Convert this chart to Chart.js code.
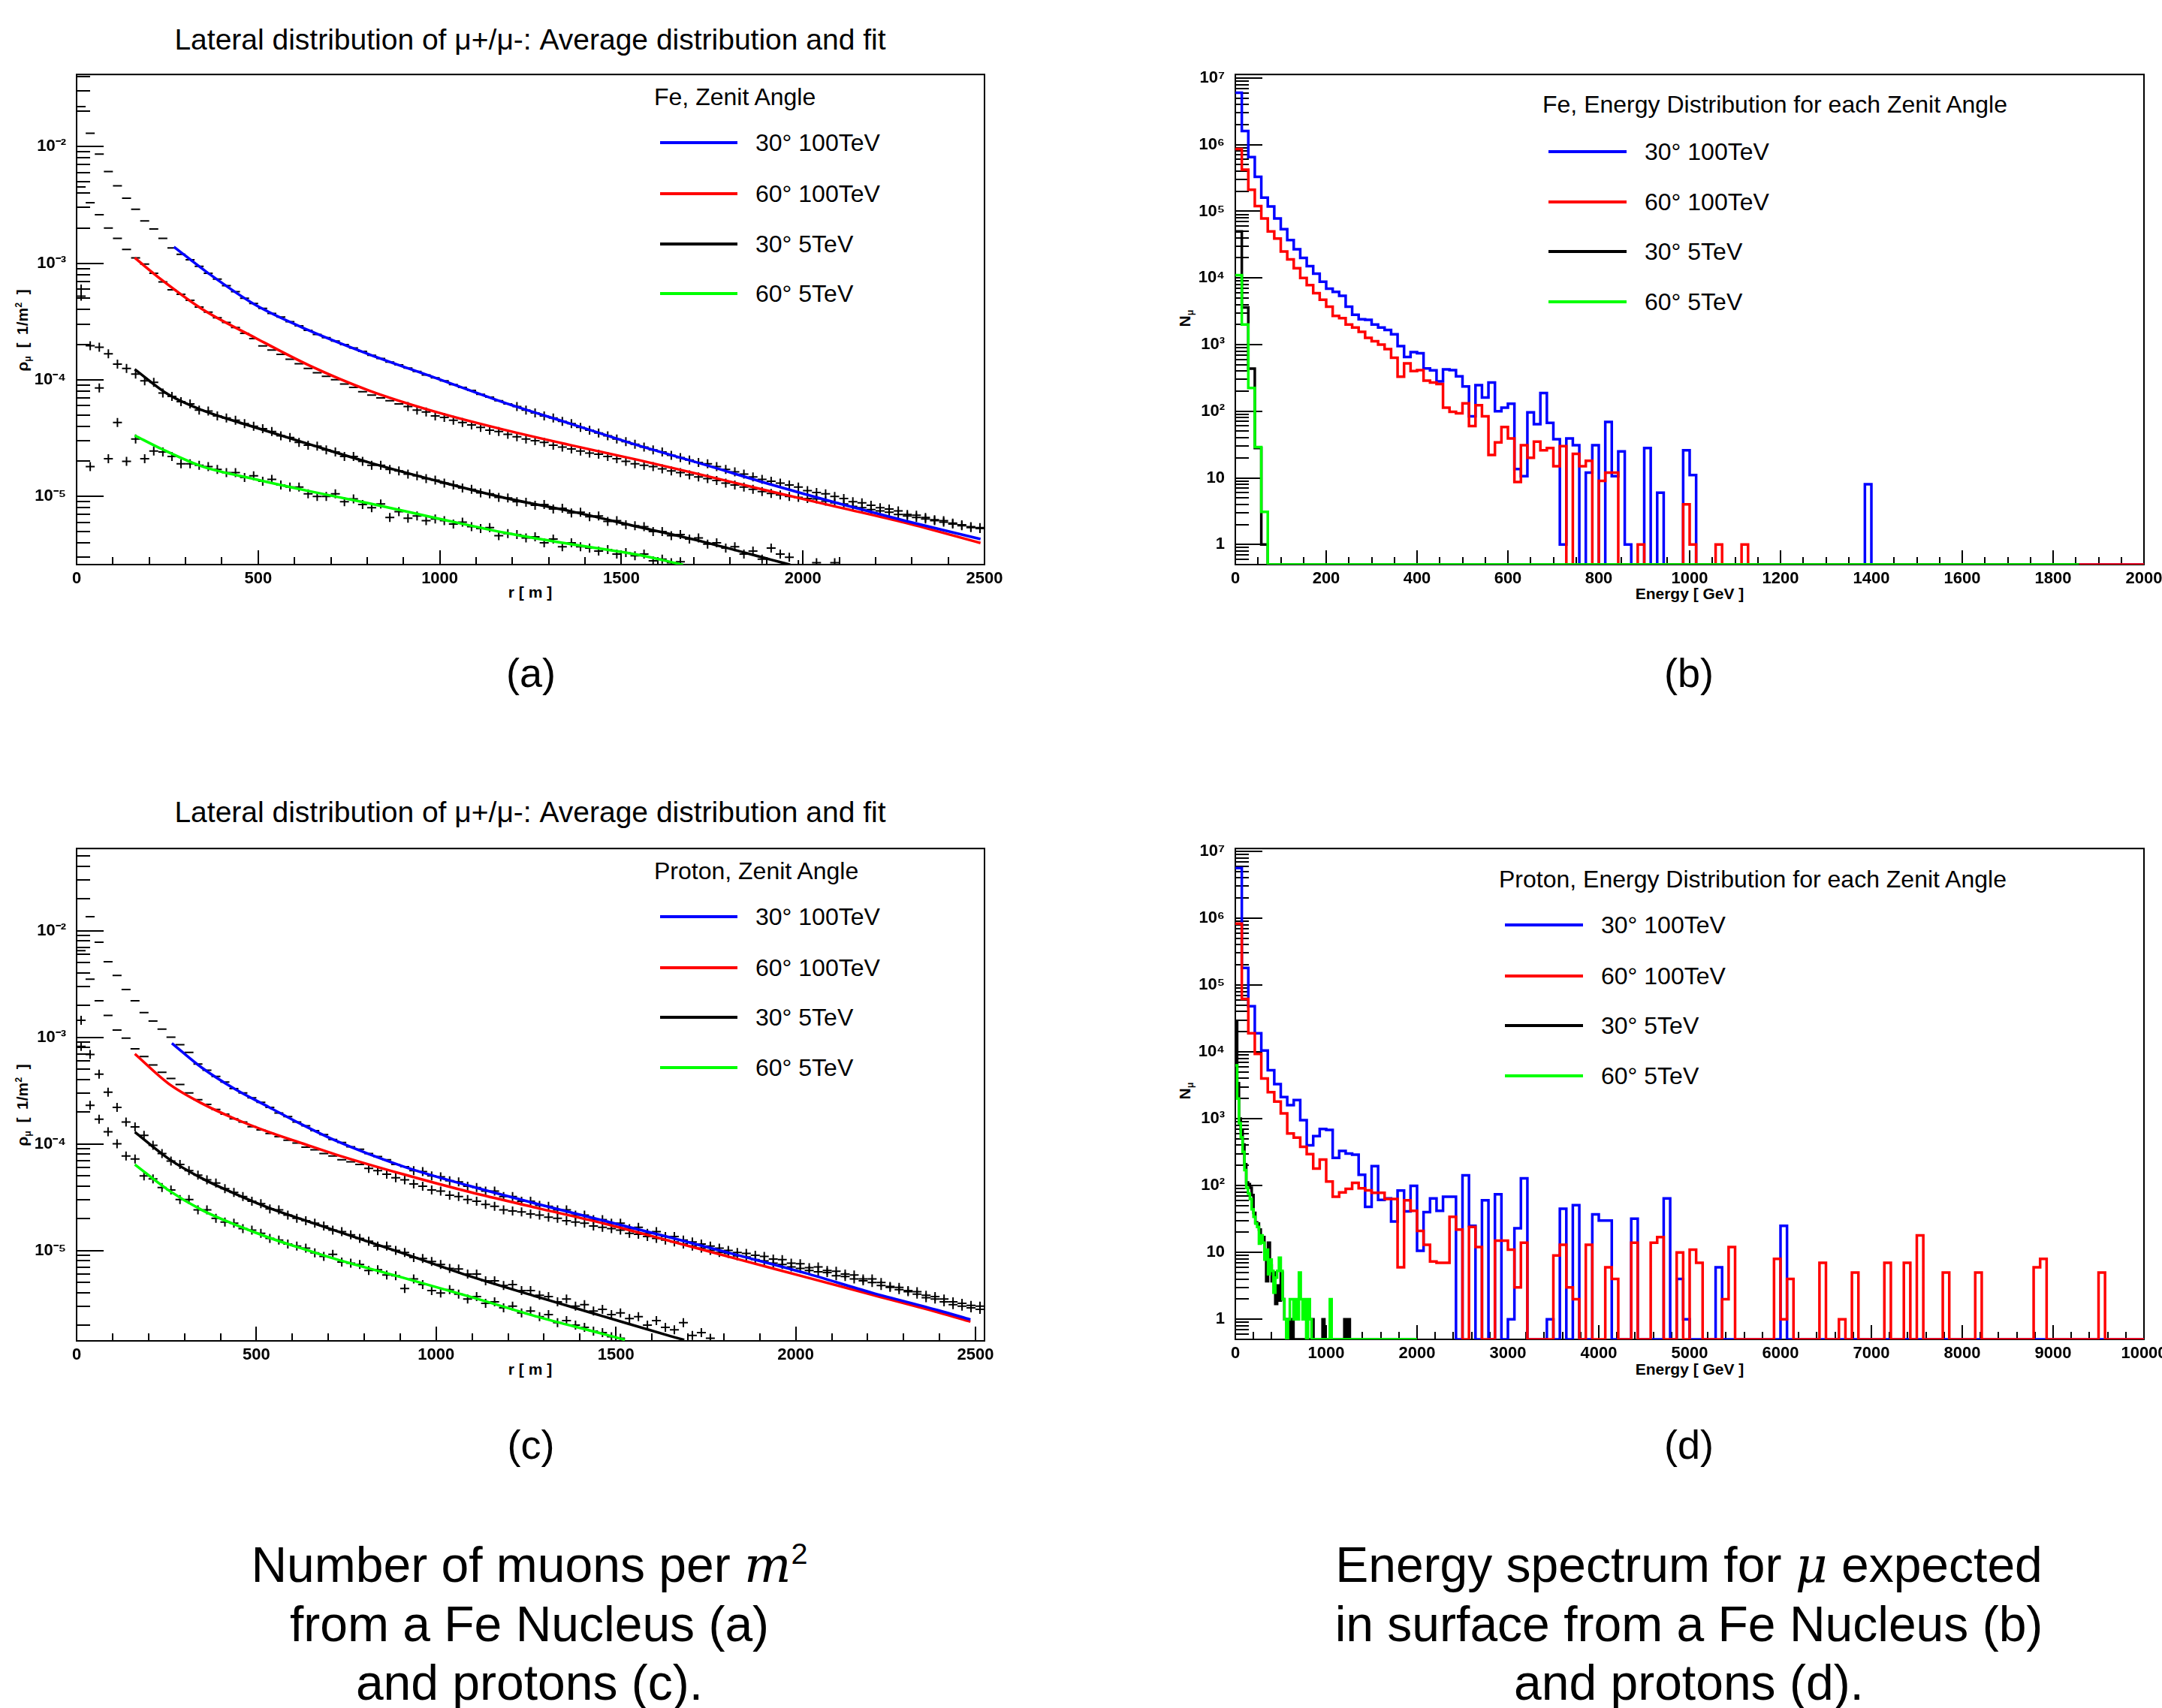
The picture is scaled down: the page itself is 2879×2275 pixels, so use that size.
<!DOCTYPE html>
<html>
<head>
<meta charset="utf-8">
<script src="https://cdn.jsdelivr.net/npm/chart.js@4.4.1/dist/chart.umd.min.js"></script>
<style>
  html, body { margin: 0; padding: 0; background: #fff; }
  body { width: 2879px; height: 2275px; position: relative; overflow: hidden;
         font-family: "Liberation Sans", Arial, sans-serif; color: #000; }
  canvas { position: absolute; }
  .t { position: absolute; white-space: nowrap; transform: translate(-50%, -50%); line-height: 1; }
  .title { font-size: 39px; }
  .axt { font-size: 21px; font-weight: bold; }
  .yt { transform: translate(-50%, -50%) rotate(-90deg); font-size: 21px; }
  .leg { position: absolute; white-space: nowrap; font-size: 32px; line-height: 1; transform: translateY(-50%); }
  .sw { position: absolute; height: 4px; transform: translateY(-50%); }
  .tag { font-size: 54px; }
  .cap { font-size: 66px; text-align: center; line-height: 78px; transform: translate(-50%, 0); }
  .math { font-family: "DejaVu Serif", "Liberation Serif", serif; font-style: italic; }
  sub { font-size: 60%; vertical-align: -0.3em; }
  sup { font-size: 60%; vertical-align: 0.6em; line-height: 0; }
</style>
</head>
<body>

<div class="t title" style="left:706px;top:52px">Lateral distribution of μ+/μ-: Average distribution and fit</div>
<div class="t title" style="left:706px;top:1081px">Lateral distribution of μ+/μ-: Average distribution and fit</div>

<div class="t axt" style="left:706px;top:788px">r [ m ]</div>
<div class="t axt" style="left:706px;top:1823px">r [ m ]</div>
<div class="t axt" style="left:2250px;top:790px">Energy [ GeV ]</div>
<div class="t axt" style="left:2250px;top:1823px">Energy [ GeV ]</div>

<div class="t axt yt" style="left:31px;top:440px">ρ<sub>μ</sub>&ensp;[&ensp;1/m<sup>2</sup>&ensp;]</div>
<div class="t axt yt" style="left:31px;top:1472px">ρ<sub>μ</sub>&ensp;[&ensp;1/m<sup>2</sup>&ensp;]</div>
<div class="t axt yt" style="left:1579px;top:424px">N<sub>μ</sub></div>
<div class="t axt yt" style="left:1579px;top:1453px">N<sub>μ</sub></div>

<div class="t tag" style="left:707px;top:896px">(a)</div>
<div class="t tag" style="left:2249px;top:896px">(b)</div>
<div class="t tag" style="left:707px;top:1924px">(c)</div>
<div class="t tag" style="left:2249px;top:1924px">(d)</div>

<div class="t cap" style="left:705px;top:2045px">Number of muons per <span class="math">m</span><sup>2</sup><br>from a Fe Nucleus (a)<br>and protons (c).</div>
<div class="t cap" style="left:2249px;top:2045px">Energy spectrum for <span class="math">μ</span> expected<br>in surface from a Fe Nucleus (b)<br>and protons (d).</div>

<div id="legends"></div>

<script>
// ---- series names / colours ----
const seriesLabels = ['30° 100TeV', '60° 100TeV', '30° 5TeV', '60° 5TeV'];
const seriesColors = ['#0000ff', '#ff0000', '#000000', '#00ff00'];

// ---- tick labels ----
const latTickValues = [1e-5, 1e-4, 1e-3, 1e-2];
const latTickLabels = ['10⁻⁵', '10⁻⁴', '10⁻³', '10⁻²'];
const nTickValues = [1, 10, 100, 1e3, 1e4, 1e5, 1e6, 1e7];
const nTickLabels = ['1', '10', '10²', '10³', '10⁴', '10⁵', '10⁶', '10⁷'];
const rTickValues = [0, 500, 1000, 1500, 2000, 2500];
const feETickValues = [0, 200, 400, 600, 800, 1000, 1200, 1400, 1600, 1800, 2000];
const pETickValues = [0, 1000, 2000, 3000, 4000, 5000, 6000, 7000, 8000, 9000, 10000];

// ---- bin widths ----
const R_BIN = 25;            // m
const FE_E_BIN = 2000 / 140; // GeV
const P_E_BIN = 10000 / 140; // GeV
const P5_E_BIN = 20;         // GeV

// ---- (a) Fe lateral distribution, averaged points per 25 m bin [1/m^2] ----
const feBlueData = [0.022, 0.013, 0.0086, 0.0061, 0.0046, 0.0036, 0.0029, 0.0023, 0.00196, 0.00163, 0.00135, 0.00119,
  1.07e-3, 9.4e-4, 8.2e-4, 7.3e-4, 6.4e-4, 5.7e-4, 5.0e-4, 4.5e-4,
  4.1e-4, 3.7e-4, 3.45e-4, 3.15e-4, 2.9e-4, 2.65e-4, 2.45e-4, 2.3e-4, 2.15e-4, 2.0e-4,
  1.87e-4, 1.75e-4, 1.62e-4, 1.52e-4, 1.42e-4, 1.34e-4, 1.26e-4, 1.18e-4, 1.1e-4, 1.04e-4,
  9.8e-5, 9.1e-5, 8.6e-5, 8.1e-5, 7.5e-5, 7.1e-5, 6.6e-5, 6.2e-5, 5.9e-5, 5.5e-5,
  5.2e-5, 4.9e-5, 4.7e-5, 4.4e-5, 4.2e-5, 3.9e-5, 3.7e-5, 3.5e-5, 3.3e-5, 3.1e-5,
  2.95e-5, 2.8e-5, 2.65e-5, 2.5e-5, 2.4e-5, 2.25e-5, 2.15e-5, 2.05e-5, 1.95e-5, 1.9e-5,
  1.8e-5, 1.7e-5, 1.62e-5, 1.55e-5, 1.47e-5, 1.4e-5, 1.35e-5, 1.3e-5, 1.25e-5, 1.2e-5,
  1.12e-5, 1.08e-5, 1.05e-5, 1.0e-5, 9.6e-6, 9.0e-6, 8.8e-6, 8.4e-6, 8.0e-6, 7.8e-6,
  7.5e-6, 7.0e-6, 6.9e-6, 6.6e-6, 6.3e-6, 6.2e-6, 5.8e-6, 5.7e-6, 5.5e-6, 5.4e-6];
const feRedData = [4.5e-3, 3.3e-3, 2.6e-3, 2.0e-3, 1.63e-3, 1.31e-3, 1.11e-3, 9.8e-4, 8.2e-4, 6.9e-4, 5.9e-4, 5.4e-4,
  4.8e-4, 4.2e-4, 3.8e-4, 3.4e-4, 3.1e-4, 2.8e-4, 2.5e-4, 2.25e-4,
  1.95e-4, 1.8e-4, 1.65e-4, 1.5e-4, 1.37e-4, 1.25e-4, 1.15e-4, 1.07e-4, 1.0e-4, 9.2e-5,
  8.6e-5, 7.9e-5, 7.4e-5, 7.0e-5, 6.6e-5, 6.2e-5, 5.9e-5, 5.5e-5, 5.3e-5, 4.9e-5,
  4.75e-5, 4.5e-5, 4.3e-5, 4.1e-5, 3.9e-5, 3.7e-5, 3.6e-5, 3.4e-5, 3.25e-5, 3.1e-5,
  3.0e-5, 2.9e-5, 2.75e-5, 2.65e-5, 2.55e-5, 2.45e-5, 2.35e-5, 2.3e-5, 2.2e-5, 2.1e-5,
  2.0e-5, 1.9e-5, 1.85e-5, 1.8e-5, 1.72e-5, 1.65e-5, 1.6e-5, 1.53e-5, 1.47e-5, 1.42e-5,
  1.37e-5, 1.3e-5, 1.25e-5, 1.2e-5, 1.15e-5, 1.1e-5, 1.06e-5, 1.03e-5, 1.0e-5, 9.8e-6,
  9.6e-6, 9.5e-6, 9.1e-6, 8.8e-6, 8.6e-6, 8.2e-6, 8.0e-6, 7.7e-6, 7.5e-6, 7.3e-6,
  7.0e-6, 6.8e-6, 6.6e-6, 6.4e-6, 6.2e-6, 6.0e-6, 5.9e-6, 5.6e-6, 5.4e-6, 5.3e-6];
const feBlackData = [6.0e-4, 1.96e-4, 1.9e-4, 1.67e-4, 1.36e-4, 1.25e-4, 1.12e-4, 9.8e-5, 9.5e-5, 7.7e-5, 7.2e-5, 6.5e-5,
  6.2e-5, 5.5e-5, 5.4e-5, 4.9e-5, 4.7e-5, 4.5e-5, 4.2e-5, 4.0e-5,
  3.8e-5, 3.6e-5, 3.3e-5, 3.2e-5, 2.9e-5, 2.75e-5, 2.7e-5, 2.5e-5, 2.4e-5, 2.2e-5,
  2.2e-5, 2.0e-5, 1.85e-5, 1.85e-5, 1.7e-5, 1.65e-5, 1.55e-5, 1.5e-5, 1.42e-5, 1.38e-5,
  1.3e-5, 1.25e-5, 1.18e-5, 1.15e-5, 1.07e-5, 1.05e-5, 9.8e-6, 9.7e-6, 9.0e-6, 8.9e-6,
  8.4e-6, 8.5e-6, 7.8e-6, 7.9e-6, 7.2e-6, 7.3e-6, 6.7e-6, 6.8e-6, 6.1e-6, 6.2e-6,
  5.7e-6, 5.6e-6, 5.5e-6, 5.0e-6, 5.0e-6, 4.6e-6, 4.7e-6, 4.3e-6, 4.4e-6, 3.9e-6,
  4.0e-6, 3.6e-6, 3.7e-6, 3.2e-6, 3.4e-6, 2.9e-6, 3.6e-6, 3.2e-6, 3.0e-6, 2.6e-6,
  null, 2.7e-6, null, 2.7e-6, null, null, null, null, null, null,
  null, null, null, null, null, null, null, null, null, null];
const feGreenData = [5.2e-4, 1.8e-5, 8.5e-5, 2.1e-5, 4.3e-5, 2.0e-5, 3.1e-5, 2.1e-5, 2.45e-5, 2.4e-5, 2.2e-5, 1.9e-5,
  1.9e-5, 1.85e-5, 1.8e-5, 1.7e-5, 1.6e-5, 1.6e-5, 1.45e-5, 1.5e-5,
  1.35e-5, 1.4e-5, 1.25e-5, 1.2e-5, 1.2e-5, 1.05e-5, 1.0e-5, 1.0e-5, 1.05e-5, 9.0e-6,
  9.5e-6, 8.5e-6, 8.0e-6, 8.6e-6, 6.6e-6, 7.4e-6, 6.5e-6, 6.8e-6, 6.2e-6, 6.4e-6,
  6.2e-6, 5.8e-6, 6.0e-6, 5.5e-6, 5.3e-6, 5.4e-6, 4.6e-6, 4.8e-6, 4.7e-6, 4.4e-6,
  4.5e-6, 4.0e-6, 4.3e-6, 3.7e-6, 4.0e-6, 3.7e-6, 3.6e-6, 3.4e-6, 3.5e-6, 3.2e-6,
  3.3e-6, 3.1e-6, 3.2e-6, 2.8e-6, 2.9e-6, 2.7e-6, 2.75e-6, null, null, null,
  null, null, null, null, null, null, null, null, null, null,
  null, null, null, null, null, null, null, null, null, null,
  null, null, null, null, null, null, null, null, null, null];

// ---- (a) Fe fits: r [m] and density [1/m^2] ----
const feBlueFitR = [268, 363, 493, 640, 806, 991, 1175, 1360, 1544, 1729, 1913, 2098, 2282, 2489];
const feBlueFit = [1.38e-3, 8.18e-4, 4.37e-4, 2.65e-4, 1.65e-4, 1.03e-4, 6.41e-5, 4.2e-5, 2.75e-5, 1.87e-5, 1.26e-5, 8.7e-6, 6.17e-6, 4.3e-6];
const feRedFitR = [160, 234, 345, 493, 640, 806, 991, 1175, 1360, 1544, 1729, 1913, 2098, 2282, 2489];
const feRedFit = [1.11e-3, 7.2e-4, 4.05e-4, 2.28e-4, 1.33e-4, 8.07e-5, 5.28e-5, 3.74e-5, 2.75e-5, 2.06e-5, 1.51e-5, 1.1e-5, 8.07e-6, 5.93e-6, 3.98e-6];
const feBlackFitR = [160, 253, 345, 493, 640, 806, 991, 1175, 1360, 1544, 1729, 1913, 1965];
const feBlackFit = [1.23e-4, 7.46e-5, 5.5e-5, 3.89e-5, 2.8e-5, 1.95e-5, 1.36e-5, 9.77e-6, 7.46e-6, 5.5e-6, 4.05e-6, 2.86e-6, 2.59e-6];
const feGreenFitR = [160, 234, 345, 493, 640, 806, 991, 1175, 1360, 1544, 1670];
const feGreenFit = [3.33e-5, 2.55e-5, 1.81e-5, 1.4e-5, 1.11e-5, 8.7e-6, 6.5e-6, 4.9e-6, 3.89e-6, 3.16e-6, 2.59e-6];

// ---- (c) proton lateral distribution, averaged points per 25 m bin ----
const pBlueData = [0.0299, 0.0135, 7.8e-3, 5.1e-3, 3.8e-3, 2.8e-3, 2.2e-3, 1.7e-3, 1.42e-3, 1.19e-3, 1.0e-3, 8.5e-4, 7.2e-4,
  5.6e-4, 4.9e-4, 4.3e-4, 3.8e-4, 3.3e-4, 3.0e-4, 2.7e-4,
  2.45e-4, 2.2e-4, 1.95e-4, 1.8e-4, 1.6e-4, 1.48e-4, 1.33e-4, 1.22e-4, 1.1e-4, 1.03e-4,
  9.4e-5, 8.9e-5, 8.1e-5, 7.6e-5, 7.1e-5, 6.4e-5, 6.1e-5, 5.6e-5, 5.5e-5, 5.0e-5,
  4.9e-5, 4.5e-5, 4.4e-5, 4.0e-5, 3.9e-5, 3.6e-5, 3.6e-5, 3.2e-5, 3.2e-5, 2.9e-5,
  2.9e-5, 2.65e-5, 2.6e-5, 2.4e-5, 2.4e-5, 2.15e-5, 2.15e-5, 1.95e-5, 1.95e-5, 1.8e-5,
  1.8e-5, 1.6e-5, 1.65e-5, 1.45e-5, 1.5e-5, 1.35e-5, 1.35e-5, 1.25e-5, 1.2e-5, 1.15e-5,
  1.1e-5, 1.05e-5, 1.0e-5, 9.6e-6, 9.4e-6, 9.0e-6, 8.8e-6, 8.3e-6, 8.2e-6, 7.6e-6,
  7.5e-6, 6.9e-6, 7.0e-6, 6.5e-6, 6.4e-6, 6.0e-6, 5.9e-6, 5.4e-6, 5.4e-6, 5.0e-6,
  4.6e-6, 4.5e-6, 4.2e-6, 4.1e-6, 3.8e-6, 3.7e-6, 3.5e-6, 3.3e-6, 3.2e-6, 3.05e-6, 3.0e-6];
const pRedData = [6.5e-3, 3.5e-3, 2.2e-3, 1.6e-3, 1.17e-3, 9.8e-4, 7.8e-4, 6.6e-4, 5.5e-4, 4.7e-4, 4.1e-4, 3.6e-4, 3.0e-4,
  2.6e-4, 2.35e-4, 2.1e-4, 1.9e-4, 1.72e-4, 1.6e-4, 1.45e-4,
  1.35e-4, 1.25e-4, 1.17e-4, 1.08e-4, 1.02e-4, 9.3e-5, 8.8e-5, 8.1e-5, 7.7e-5, 7.1e-5,
  6.8e-5, 6.4e-5, 5.9e-5, 5.6e-5, 5.2e-5, 4.8e-5, 4.6e-5, 4.2e-5, 4.0e-5, 3.7e-5,
  3.6e-5, 3.3e-5, 3.2e-5, 3.0e-5, 2.9e-5, 2.7e-5, 2.6e-5, 2.4e-5, 2.35e-5, 2.3e-5,
  2.2e-5, 2.15e-5, 2.05e-5, 2.0e-5, 1.9e-5, 1.85e-5, 1.8e-5, 1.7e-5, 1.65e-5, 1.6e-5,
  1.55e-5, 1.45e-5, 1.42e-5, 1.35e-5, 1.3e-5, 1.25e-5, 1.2e-5, 1.15e-5, 1.1e-5, 1.05e-5,
  1.0e-5, 9.6e-6, 9.4e-6, 8.9e-6, 8.7e-6, 8.2e-6, 8.0e-6, 7.6e-6, 7.4e-6, 7.0e-6,
  6.8e-6, 6.5e-6, 6.3e-6, 6.2e-6, 5.8e-6, 5.7e-6, 5.4e-6, 5.2e-6, 5.0e-6, 4.7e-6,
  4.5e-6, 4.3e-6, 4.1e-6, 3.9e-6, 3.6e-6, 3.5e-6, 3.3e-6, 3.1e-6, 3.0e-6, 2.9e-6, 2.8e-6];
const pBlackData = [1.44e-3, 6.9e-4, 4.5e-4, 3.05e-4, 2.2e-4, 1.6e-4, 1.44e-4, 1.2e-4, 9.7e-5, 8.1e-5, 6.9e-5, 6.4e-5, 5.6e-5,
  5.1e-5, 4.6e-5, 4.3e-5, 3.8e-5, 3.5e-5, 3.2e-5, 2.9e-5,
  2.75e-5, 2.45e-5, 2.4e-5, 2.15e-5, 2.0e-5, 1.9e-5, 1.8e-5, 1.7e-5, 1.55e-5, 1.5e-5,
  1.4e-5, 1.3e-5, 1.22e-5, 1.1e-5, 1.1e-5, 1.0e-5, 9.6e-6, 8.6e-6, 8.4e-6, 7.9e-6,
  7.4e-6, 6.8e-6, 6.7e-6, 6.0e-6, 6.0e-6, 5.2e-6, 5.2e-6, 4.7e-6, 4.8e-6, 4.2e-6,
  4.2e-6, 3.8e-6, 3.7e-6, 3.3e-6, 3.5e-6, 3.0e-6, 3.1e-6, 2.7e-6, 2.8e-6, 2.5e-6,
  2.6e-6, 2.3e-6, 2.4e-6, 2.0e-6, 2.2e-6, 1.9e-6, 1.8e-6, 2.1e-6, 1.6e-6, 1.7e-6,
  1.5e-6, null, null, null, null, null, null, null, null, null,
  null, null, null, null, null, null, null, null, null, null,
  null, null, null, null, null, null, null, null, null, null, null];
const pGreenData = [8.2e-4, 2.3e-4, 1.7e-4, 1.3e-4, 1.0e-4, 7.7e-5, 7.2e-5, 5.0e-5, 4.7e-5, 3.9e-5, 3.7e-5, 3.0e-5, 3.0e-5,
  2.4e-5, 2.4e-5, 2.0e-5, 1.85e-5, 1.8e-5, 1.6e-5, 1.55e-5,
  1.45e-5, 1.3e-5, 1.25e-5, 1.15e-5, 1.1e-5, 1.05e-5, 9.5e-6, 8.8e-6, 9.2e-6, 7.8e-6,
  7.6e-6, 7.4e-6, 6.5e-6, 6.6e-6, 5.9e-6, 5.8e-6, 4.4e-6, 5.4e-6, 4.8e-6, 4.2e-6,
  4.0e-6, 4.3e-6, 3.9e-6, 3.5e-6, 3.7e-6, 3.2e-6, 3.3e-6, 2.9e-6, 3.0e-6, 2.6e-6,
  2.7e-6, 2.4e-6, 2.5e-6, 2.1e-6, 2.2e-6, 2.0e-6, 1.9e-6, 1.75e-6, 1.7e-6, 1.55e-6,
  1.5e-6, null, null, null, null, null, null, null, null, null,
  null, null, null, null, null, null, null, null, null, null,
  null, null, null, null, null, null, null, null, null, null,
  null, null, null, null, null, null, null, null, null, null, null];

// ---- (c) proton fits ----
const pBlueFitR = [265, 348, 442, 535, 628, 721, 908, 1094, 1280, 1467, 1653, 1839, 2026, 2212, 2398, 2486];
const pBlueFit = [8.79e-4, 5.19e-4, 3.24e-4, 2.21e-4, 1.51e-4, 1.07e-4, 6.15e-5, 4.02e-5, 2.74e-5, 1.9e-5, 1.32e-5, 9.04e-6, 6.15e-6, 4.02e-6, 2.74e-6, 2.25e-6];
const pRedFitR = [162, 255, 348, 442, 535, 628, 721, 908, 1094, 1280, 1467, 1653, 1839, 2026, 2212, 2398, 2486];
const pRedFit = [6.98e-4, 3.69e-4, 2.4e-4, 1.71e-4, 1.29e-4, 1.01e-4, 7.94e-5, 5.19e-5, 3.53e-5, 2.51e-5, 1.79e-5, 1.22e-5, 8.3e-6, 5.65e-6, 3.85e-6, 2.62e-6, 2.15e-6];
const pBlackFitR = [162, 255, 348, 442, 535, 628, 721, 908, 1094, 1280, 1467, 1653, 1690];
const pBlackFit = [1.29e-4, 7.29e-5, 4.76e-5, 3.39e-5, 2.51e-5, 1.95e-5, 1.53e-5, 9.42e-6, 5.74e-6, 3.69e-6, 2.4e-6, 1.57e-6, 1.45e-6];
const pGreenFitR = [162, 255, 348, 442, 535, 628, 721, 908, 1094, 1280, 1467, 1525];
const pGreenFit = [6.41e-5, 3.69e-5, 2.4e-5, 1.74e-5, 1.32e-5, 1.04e-5, 8.3e-6, 5.55e-6, 3.69e-6, 2.4e-6, 1.64e-6, 1.45e-6];

// ---- (b) Fe energy spectra, counts per bin (140 bins, 0-2000 GeV) ----
const feBlueHist = [6.0e6, 1.6e6, 6.5e5, 3.3e5, 1.6e5, 1.18e5, 7.8e4, 5.4e4, 3.7e4, 2.7e4,
  2.0e4, 1.5e4, 1.16e4, 8.8e3, 6.9e3, 6.2e3, 5.4e3, 3.7e3, 2.8e3, 2.4e3,
  2.35e3, 2.0e3, 1.8e3, 1.66e3, 1.43e3, 950, 650, 770, 740, 440,
  410, 280, 425, 415, 335, 235, 84, 246, 161, 270,
  100, 113, 130, 13.6, 10.6, 96, 64, 188, 67, 38,
  1, 39, 31, 0, 12, 31, 0, 69, 10.6, 25,
  1, 0, 0, 28, 0, 6, 0, 0, 0, 26,
  11, 0, 0, 0, 0, 0, 0, 0, 0, 0,
  0, 0, 0, 0, 0, 0, 0, 0, 0, 0,
  0, 0, 0, 0, 0, 0, 0, 8, 0, 0,
  0, 0, 0, 0, 0, 0, 0, 0, 0, 0, 0, 0, 0, 0, 0, 0, 0, 0, 0, 0,
  0, 0, 0, 0, 0, 0, 0, 0, 0, 0, 0, 0, 0, 0, 0, 0, 0, 0, 0, 0];
const feRedHist = [8.6e5, 4.2e5, 2.1e5, 1.2e5, 7.8e4, 5.0e4, 3.9e4, 2.5e4, 1.9e4, 1.4e4,
  1.0e4, 7.8e3, 5.9e3, 4.7e3, 3.7e3, 2.7e3, 2.5e3, 2.0e3, 1.8e3, 1.55e3,
  1.26e3, 1.12e3, 1.0e3, 855, 635, 330, 523, 400, 415, 288,
  270, 256, 113, 98, 93, 131, 60, 123, 84, 22,
  34, 58, 39, 8.7, 31, 20, 35, 26, 28, 15,
  30, 0, 23, 15, 18, 0, 9, 12, 12, 0,
  0, 0, 1, 0, 0, 0, 0, 0, 0, 4,
  1, 0, 0, 0, 1, 0, 0, 0, 1, 0,
  0, 0, 0, 0, 0, 0, 0, 0, 0, 0, 0, 0, 0, 0, 0, 0, 0, 0, 0, 0,
  0, 0, 0, 0, 0, 0, 0, 0, 0, 0, 0, 0, 0, 0, 0, 0, 0, 0, 0, 0,
  0, 0, 0, 0, 0, 0, 0, 0, 0, 0, 0, 0, 0, 0, 0, 0, 0, 0, 0, 0];
const feBlackHist = [5.0e4, 3.6e3, 435, 28, 1, 0, 0, 0, 0, 0,
  0, 0, 0, 0, 0, 0, 0, 0, 0, 0, 0, 0, 0, 0, 0, 0, 0, 0, 0, 0,
  0, 0, 0, 0, 0, 0, 0, 0, 0, 0, 0, 0, 0, 0, 0, 0, 0, 0, 0, 0,
  0, 0, 0, 0, 0, 0, 0, 0, 0, 0, 0, 0, 0, 0, 0, 0, 0, 0, 0, 0,
  0, 0, 0, 0, 0, 0, 0, 0, 0, 0, 0, 0, 0, 0, 0, 0, 0, 0, 0, 0,
  0, 0, 0, 0, 0, 0, 0, 0, 0, 0, 0, 0, 0, 0, 0, 0, 0, 0, 0, 0,
  0, 0, 0, 0, 0, 0, 0, 0, 0, 0, 0, 0, 0, 0, 0, 0, 0, 0, 0, 0];
const feGreenHist = [1.1e4, 2.0e3, 224, 29, 3.1, 0, 0, 0, 0, 0,
  0, 0, 0, 0, 0, 0, 0, 0, 0, 0, 0, 0, 0, 0, 0, 0, 0, 0, 0, 0,
  0, 0, 0, 0, 0, 0, 0, 0, 0, 0, 0, 0, 0, 0, 0, 0, 0, 0, 0, 0,
  0, 0, 0, 0, 0, 0, 0, 0, 0, 0, 0, 0, 0, 0, 0, 0, 0, 0, 0, 0,
  0, 0, 0, 0, 0, 0, 0, 0, 0, 0, 0, 0, 0, 0, 0, 0, 0, 0, 0, 0,
  0, 0, 0, 0, 0, 0, 0, 0, 0, 0, 0, 0, 0, 0, 0, 0, 0, 0, 0, 0,
  0, 0, 0, 0, 0, 0, 0, 0, 0, 0, 0, 0, 0, 0, 0, 0, 0, 0, 0, 0];

// ---- (d) proton energy spectra: 100 TeV 140 bins 0-10000 GeV, 5 TeV 100 bins 0-2000 GeV ----
const pBlueHist = [5.6e6, 1.8e5, 4.8e4, 1.9e4, 1.05e4, 5.3e3, 3.3e3, 2.1e3, 1.6e3, 1.9e3,
  950, 400, 550, 700, 680, 260, 330, 300, 290, 145,
  48, 195, 61, 64, 29, 84, 41, 99, 10.6, 40,
  64, 42, 68, 68, 0, 142, 25, 0, 60, 0,
  74, 0, 1, 23, 128, 0, 0, 0, 1, 0,
  45, 0, 51, 0, 0, 37, 30, 30, 0, 0,
  0, 32, 0, 0, 0, 0, 64, 0, 4, 1,
  0, 0, 0, 0, 6, 0, 0, 0, 0, 0,
  0, 0, 0, 0, 25, 0, 0, 0, 0, 0,
  0, 0, 0, 0, 0, 0, 0, 0, 0, 0, 0, 0, 0, 0, 0, 0, 0, 0, 0, 0,
  0, 0, 0, 0, 0, 0, 0, 0, 0, 0, 0, 0, 0, 0, 0, 0, 0, 0, 0, 0,
  0, 0, 0, 0, 0, 0, 0, 0, 0, 0];
const pRedHist = [8.3e5, 6.2e4, 1.9e4, 9.3e3, 4.0e3, 2.5e3, 1.8e3, 1.2e3, 600, 520,
  380, 295, 180, 245, 115, 68, 79, 89, 110, 91,
  85, 78, 78, 63, 63, 6, 60, 42, 21, 13,
  7.3, 7, 7, 34, 22, 0, 24, 12, 0, 0,
  15, 15, 11, 3, 14, 0, 0, 0, 0, 9,
  13, 3, 2, 0, 13, 0, 0, 6, 4, 0,
  0, 14, 0, 0, 14, 17, 0, 0, 10, 0,
  11, 7, 0, 0, 0, 2, 12, 0, 0, 0,
  0, 0, 0, 8, 1, 4, 0, 0, 0, 0,
  7, 0, 0, 1, 0, 5, 0, 0, 0, 0,
  7, 0, 0, 7, 0, 18, 0, 0, 0, 5,
  0, 0, 0, 0, 5, 0, 0, 0, 0, 0,
  0, 0, 0, 6, 8, 0, 0, 0, 0, 0,
  0, 0, 0, 5, 0, 0, 0, 0, 0, 0];
const pBlackHist = [2.8e4, 3.4e3, 1.0e3, 670, 410, 208, 111, 105, 93, 72,
  39, 28, 27, 22, 15, 17, 10, 3.7, 14, 6.4,
  3.7, 5, 1.7, 3.2, 1.9, 5, 2, 1, 0, 1,
  0, 1, 0, 0, 0, 0, 0, 0, 0, 0,
  0, 0, 1, 0, 0, 0, 0, 0, 1, 0,
  0, 0, 0, 0, 0, 0, 0, 0, 0, 0,
  1, 0, 1, 0, 0, 0, 0, 0, 0, 0,
  0, 0, 0, 0, 0, 0, 0, 0, 0, 0, 0, 0, 0, 0, 0, 0, 0, 0, 0, 0,
  0, 0, 0, 0, 0, 0, 0, 0, 0, 0];
const pGreenHist = [6.3e3, 2.0e3, 860, 525, 320, 170, 92, 76, 63, 44,
  34, 27, 24, 13.5, 18, 14, 7.8, 11, 4.7, 7.8,
  5.3, 2.5, 4.2, 5.3, 8.3, 5.3, 2, 1, 0, 1,
  2, 2, 1, 2, 1, 5, 2, 1, 2, 0,
  2, 1, 0, 0, 0, 0, 0, 0, 0, 0,
  0, 0, 2, 0, 0, 0, 0, 0, 0, 0,
  0, 0, 0, 0, 0, 0, 0, 0, 0, 0, 0, 0, 0, 0, 0, 0, 0, 0, 0, 0,
  0, 0, 0, 0, 0, 0, 0, 0, 0, 0, 0, 0, 0, 0, 0, 0, 0, 0, 0, 0];

// ---- page layout: plot frames in page pixels ----
const PANELS = {
  a: { left: 102, top: 92, right: 1311, bottom: 752 },
  b: { left: 1645, top: 92, right: 2855, bottom: 752 },
  c: { left: 102, top: 1123, right: 1311, bottom: 1786 },
  d: { left: 1645, top: 1123, right: 2855, bottom: 1784 },
};
const Y_AXIS_W = 100, X_AXIS_H = 50, PAD_TOP = 12, PAD_RIGHT = 40;
const TICK_FONT = { family: '"Liberation Sans", Arial, sans-serif', size: 22, weight: 'bold' };

// ROOT-like frame with inward tick marks
const rootFrame = {
  id: 'rootFrame',
  beforeDatasetsDraw(chart, args, o) {
    const { ctx, chartArea: a } = chart;
    const xs = chart.scales.x, ys = chart.scales.y;
    ctx.save();
    ctx.strokeStyle = '#000';
    ctx.lineWidth = 2;
    ctx.beginPath();
    for (let i = 0; i * o.xMinor <= xs.max + 1e-6; i++) {
      const px = Math.round(xs.getPixelForValue(i * o.xMinor));
      const len = i % o.xPerMajor === 0 ? 19 : 10;
      ctx.moveTo(px, a.bottom);
      ctx.lineTo(px, a.bottom - len);
    }
    const e0 = Math.floor(Math.log10(ys.min)), e1 = Math.ceil(Math.log10(ys.max));
    for (let e = e0; e <= e1; e++) {
      for (let m = 1; m <= 9; m++) {
        const v = m * Math.pow(10, e);
        if (v < ys.min || v > ys.max) continue;
        const py = Math.round(ys.getPixelForValue(v));
        ctx.moveTo(a.left, py);
        ctx.lineTo(a.left + (m === 1 ? 36 : 18), py);
      }
    }
    ctx.stroke();
    ctx.strokeRect(a.left, a.top, a.right - a.left, a.bottom - a.top);
    ctx.restore();
  }
};

function makeCanvas(p) {
  const c = document.createElement('canvas');
  c.width = (p.right - p.left) + Y_AXIS_W + PAD_RIGHT;
  c.height = (p.bottom - p.top) + PAD_TOP + X_AXIS_H;
  c.style.left = (p.left - Y_AXIS_W) + 'px';
  c.style.top = (p.top - PAD_TOP) + 'px';
  document.body.appendChild(c);
  return c;
}

function scalesFor(xMax, xVals, yMin, yMax, yVals, yLabels) {
  return {
    x: {
      type: 'linear', min: 0, max: xMax,
      afterBuildTicks: s => { s.ticks = xVals.map(v => ({ value: v })); },
      afterFit: s => { s.height = X_AXIS_H; },
      grid: { display: false }, border: { display: false },
      ticks: { autoSkip: false, maxRotation: 0, padding: -2, color: '#000', font: TICK_FONT,
               callback: (v, i) => String(xVals[i]) }
    },
    y: {
      type: 'logarithmic', min: yMin, max: yMax,
      afterBuildTicks: s => { s.ticks = yVals.map(v => ({ value: v })); },
      afterFit: s => { s.width = Y_AXIS_W; },
      grid: { display: false }, border: { display: false },
      ticks: { autoSkip: false, padding: 6, color: '#000', font: TICK_FONT,
               callback: (v, i) => yLabels[i] }
    }
  };
}

function baseOptions(scales, frame) {
  return {
    responsive: false, animation: false, devicePixelRatio: 1,
    layout: { padding: { top: PAD_TOP, right: PAD_RIGHT, left: 0, bottom: 0 } },
    plugins: { legend: { display: false }, tooltip: { enabled: false }, rootFrame: frame },
    scales
  };
}

function lateralChart(p, xMax, yMin, yMax, fits, points) {
  const datasets = [];
  fits.forEach(([rs, vs], s) => datasets.push({
    type: 'line', data: rs.map((r, i) => ({ x: r, y: vs[i] })),
    borderColor: seriesColors[s], borderWidth: 3.5, pointRadius: 0,
    cubicInterpolationMode: 'monotone', fill: false, order: 0
  }));
  points.forEach((vals, s) => datasets.push({
    type: 'scatter', data: vals.map((v, i) => ({ x: R_BIN / 2 + i * R_BIN, y: v })),
    borderColor: '#000', backgroundColor: '#000', borderWidth: 2, pointRadius: 6,
    pointStyle: ctx => (s < 2 && ctx.raw && ctx.raw.y > 6e-5) ? 'line' : 'cross',
    showLine: false, order: 1
  }));
  new Chart(makeCanvas(p), {
    type: 'scatter',
    data: { datasets },
    options: baseOptions(scalesFor(xMax, rTickValues, yMin, yMax, latTickValues, latTickLabels),
                         { xMinor: 100, xPerMajor: 5 }),
    plugins: [rootFrame]
  });
}

function histPoints(vals, width, floor) {
  const pts = vals.map((v, i) => ({ x: i * width, y: v > 0 ? v : floor }));
  pts.push({ x: vals.length * width, y: pts[pts.length - 1].y });
  return pts;
}

function spectrumChart(p, xMax, xVals, xMinor, xPerMajor, yMin, yMax, hists) {
  const datasets = hists.map(([vals, width], s) => ({
    type: 'line', data: histPoints(vals, width, yMin),
    borderColor: seriesColors[s], borderWidth: 3.5, pointRadius: 0,
    stepped: true, fill: false, order: 4 - s
  }));
  new Chart(makeCanvas(p), {
    type: 'scatter',
    data: { datasets },
    options: baseOptions(scalesFor(xMax, xVals, yMin, yMax, nTickValues, nTickLabels),
                         { xMinor, xPerMajor }),
    plugins: [rootFrame]
  });
}

lateralChart(PANELS.a, 2500, 2.6e-6, 0.0415,
  [[feBlueFitR, feBlueFit], [feRedFitR, feRedFit], [feBlackFitR, feBlackFit], [feGreenFitR, feGreenFit]],
  [feBlueData, feRedData, feBlackData, feGreenData]);

lateralChart(PANELS.c, 2525, 1.42e-6, 0.0589,
  [[pBlueFitR, pBlueFit], [pRedFitR, pRedFit], [pBlackFitR, pBlackFit], [pGreenFitR, pGreenFit]],
  [pBlueData, pRedData, pBlackData, pGreenData]);

spectrumChart(PANELS.b, 2000, feETickValues, 50, 4, 0.5, 1.13e7,
  [[feBlueHist, FE_E_BIN], [feRedHist, FE_E_BIN], [feBlackHist, FE_E_BIN], [feGreenHist, FE_E_BIN]]);

spectrumChart(PANELS.d, 10000, pETickValues, 200, 5, 0.5, 1.1e7,
  [[pBlueHist, P_E_BIN], [pRedHist, P_E_BIN], [pBlackHist, P5_E_BIN], [pGreenHist, P5_E_BIN]]);

// ---- legends ----
const LEGENDS = [
  { head: 'Fe, Zenit Angle', hx: 871, hy: 129, x1: 879, x2: 982, tx: 1006, ys: [190, 258, 325, 391] },
  { head: 'Fe, Energy Distribution for each Zenit Angle', hx: 2054, hy: 139, x1: 2062, x2: 2166, tx: 2190, ys: [202, 269, 335, 402] },
  { head: 'Proton, Zenit Angle', hx: 871, hy: 1160, x1: 879, x2: 982, tx: 1006, ys: [1221, 1289, 1355, 1422] },
  { head: 'Proton, Energy Distribution for each Zenit Angle', hx: 1996, hy: 1171, x1: 2004, x2: 2108, tx: 2132, ys: [1232, 1300, 1366, 1433] },
];
const host = document.getElementById('legends');
LEGENDS.forEach(L => {
  const h = document.createElement('div');
  h.className = 'leg';
  h.style.left = L.hx + 'px'; h.style.top = L.hy + 'px';
  h.textContent = L.head;
  host.appendChild(h);
  L.ys.forEach((y, s) => {
    const sw = document.createElement('div');
    sw.className = 'sw';
    sw.style.left = L.x1 + 'px'; sw.style.width = (L.x2 - L.x1) + 'px';
    sw.style.top = y + 'px'; sw.style.background = seriesColors[s];
    host.appendChild(sw);
    const t = document.createElement('div');
    t.className = 'leg';
    t.style.left = L.tx + 'px'; t.style.top = y + 'px';
    t.textContent = seriesLabels[s];
    host.appendChild(t);
  });
});
</script>
</body>
</html>
